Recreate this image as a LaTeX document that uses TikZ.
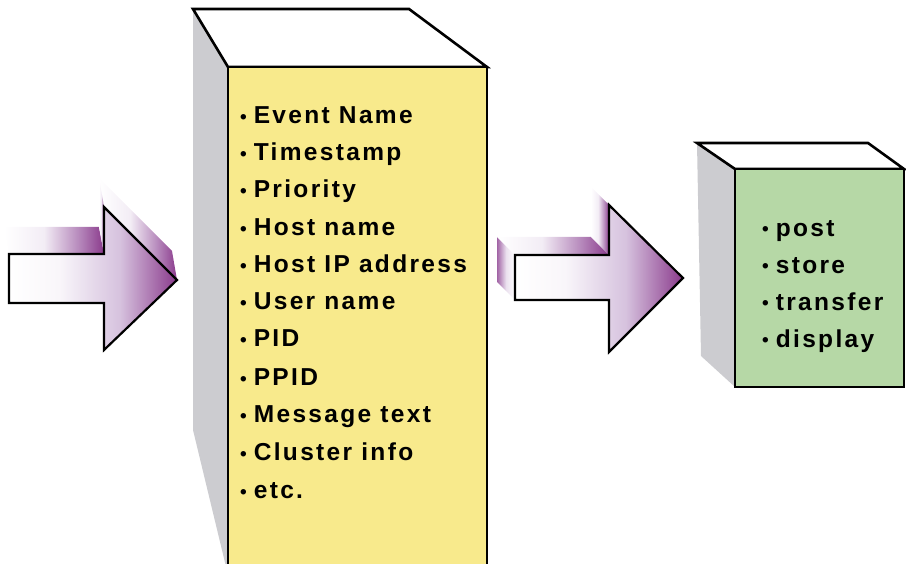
\documentclass[tikz,border=0pt]{standalone}
\usepackage{fontspec}
\newfontfamily\labfont[LetterSpace=9.5]{Liberation Sans}
\newfontfamily\bulfont{Liberation Sans}
\definecolor{purpD}{RGB}{138,58,140}
\definecolor{lav}{RGB}{214,194,222}
\definecolor{yelfill}{RGB}{248,234,140}
\definecolor{grnfill}{RGB}{182,216,166}
\definecolor{sidegray}{RGB}{204,204,208}
\pgfdeclarehorizontalshading{frontshade}{100bp}{color(0bp)=(white); color(25bp)=(white); color(40bp)=(white!85!lav); color(58bp)=(lav); color(75bp)=(purpD); color(100bp)=(purpD)}
\pgfdeclarehorizontalshading{backshade}{100bp}{color(0bp)=(white); color(25bp)=(white); color(45bp)=(white!70!lav); color(62bp)=(lav!60!purpD); color(75bp)=(purpD); color(100bp)=(purpD)}
\pgfdeclarehorizontalshading{sideshade}{100bp}{color(0bp)=(purpD); color(25bp)=(purpD!70!lav); color(50bp)=(lav!50!white); color(75bp)=(white); color(100bp)=(white)}
\newcommand\bul{{\bulfont\fontsize{19}{19}\selectfont •}\hspace{7pt}}
\newcommand\gbul{\raisebox{1.5pt}{\bulfont\fontsize{19}{19}\selectfont •}\hspace{7pt}}
\tikzset{
  boxline/.style={draw=black, line width=2.6pt, line join=miter},
  arrline/.style={draw=black, line width=2.2pt, line join=miter},
  item/.style={anchor=base west, inner sep=0pt, font=\labfont\bfseries\fontsize{24.5}{24.5}\selectfont},
}
\begin{document}
\begin{tikzpicture}[x=1pt,y=-1pt]
\useasboundingbox (0,0) rectangle (906,564);
\clip (0,0) rectangle (906,564);
% ---------- left arrow ----------
\shade[shading=backshade] (9,254) -- (104,254) -- (99,227) -- (4,227) -- cycle;
\shade[shading=backshade] (104,207) -- (177,280) -- (172,251) -- (99,178) -- cycle;
\shade[shading=backshade] (104,207) -- (104,254) -- (99,227) -- (99,178) -- cycle;
\shade[shading=frontshade,arrline] (9,254) -- (104,254) -- (104,207) -- (177,280) -- (104,350) -- (104,303) -- (9,303) -- cycle;
% ---------- yellow box ----------
\fill[sidegray] (193,9) -- (228,67) -- (228,575) -- (193,430) -- cycle;
\draw[boxline, fill=white] (193,9) -- (409,9) -- (487,67) -- (228,67) -- cycle;
\draw[boxline, fill=yelfill] (228,67) rectangle (487,580);
\node[item] (y1) at (240,124) {\bul Event Name};
\node[item] (y2) at (240,161) {\bul Timestamp};
\node[item] (y3) at (240,198) {\bul Priority};
\node[item] (y4) at (240,236) {\bul Host name};
\node[item] (y5) at (240,273) {\bul Host IP address};
\node[item] (y6) at (240,310) {\bul User name};
\node[item] (y7) at (240,347) {\bul PID};
\node[item] (y8) at (240,385) {\bul PPID};
\node[item] (y9) at (240,422) {\bul Message text};
\node[item] (y10) at (240,460) {\bul Cluster info};
\node[item] (y11) at (240,498) {\bul etc.};
% ---------- right arrow ----------
\shade[shading=sideshade] (515,255) -- (515,300) -- (497,282) -- (497,237) -- cycle;
\shade[shading=backshade] (515,255) -- (609,255) -- (591,237) -- (497,237) -- cycle;
\shade[shading=backshade] (609,205) -- (609,255) -- (591,237) -- (591,187) -- cycle;
\shade[shading=frontshade,arrline] (515,255) -- (609,255) -- (609,205) -- (683,278) -- (609,352) -- (609,300) -- (515,300) -- cycle;
% ---------- green box ----------
\fill[sidegray] (697,143) -- (735,169) -- (735,387) -- (701,356) -- cycle;
\draw[boxline, fill=white] (697,143) -- (868,143) -- (904,169) -- (735,169) -- cycle;
\draw[boxline, fill=grnfill] (735,169) rectangle (904,387);
\node[item] (g1) at (762,237) {\gbul post};
\node[item] (g2) at (762,274) {\gbul store};
\node[item] (g3) at (762,311) {\gbul transfer};
\node[item] (g4) at (762,348) {\gbul display};
\end{tikzpicture}
\end{document}
